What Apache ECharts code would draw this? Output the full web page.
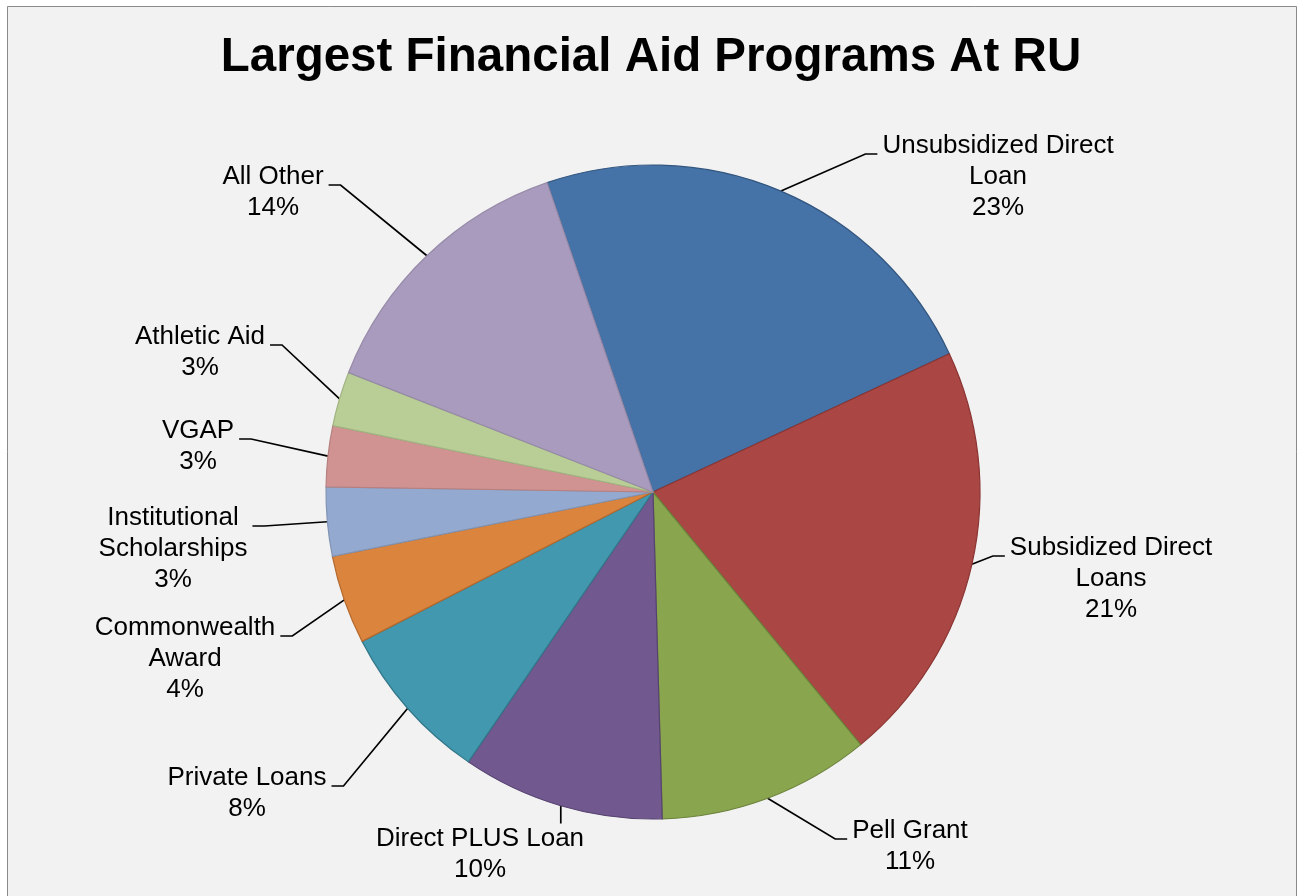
<!DOCTYPE html>
<html>
<head>
<meta charset="utf-8">
<script src="https://cdn.jsdelivr.net/npm/echarts@6/dist/echarts.min.js"></script>
<style>
html,body{margin:0;padding:0;background:#ffffff;}
#chart{width:1302px;height:896px;}
</style>
</head>
<body>
<div id="chart"></div>
<script>
// ---- data ----
var titleText = 'Largest Financial Aid Programs At RU';
var categories = [
  'Unsubsidized Direct\nLoan',
  'Subsidized Direct\nLoans',
  'Pell Grant',
  'Direct PLUS Loan',
  'Private Loans',
  'Commonwealth\nAward',
  'Institutional\nScholarships',
  'VGAP',
  'Athletic Aid',
  'All Other'
];
var shares = [23.3, 21.0, 10.5, 10.0, 7.9, 4.4, 3.4, 3.0, 2.7, 13.8];

// ---- styles / layout ----
var fillColors = ['#4572A7', '#AA4643', '#89A54E', '#71588F', '#4198AF', '#DB843D', '#93A9CF', '#D19392', '#B9CD96', '#A99BBD'];
var edgeColors = ['#33567F', '#8A3533', '#6C833C', '#574370', '#317789', '#B4692D', '#8194B4', '#B78080', '#A0B381', '#978AA8'];
// label anchor: [text centre x, first-line centre y, side of pie]
var labelPlaces = [
  [998, 146, 'r'],
  [1111, 548, 'r'],
  [910, 831, 'r'],
  [480, 839, 'b'],
  [247, 778, 'l'],
  [185, 628, 'l'],
  [173, 518, 'l'],
  [198, 431, 'l'],
  [200, 337, 'l'],
  [273, 177, 'l']
];
var LINE_H = 31;

var chart = echarts.init(document.getElementById('chart'), null, {renderer: 'canvas'});

var pieData = categories.map(function (c, i) {
  return {
    name: c,
    value: shares[i],
    itemStyle: {color: fillColors[i], borderColor: edgeColors[i], borderWidth: 1.2}
  };
});

chart.setOption({
  backgroundColor: '#ffffff',
  animation: false,
  graphic: [{
    type: 'rect',
    z: -10,
    silent: true,
    shape: {x: 7.5, y: 6.5, width: 1289, height: 900},
    style: {fill: '#F2F2F2', stroke: '#8A8A8A', lineWidth: 1}
  }],
  title: {
    text: titleText,
    left: 'center',
    top: 29,
    textStyle: {
      fontFamily: '"Liberation Sans", Arial, sans-serif',
      fontSize: 47.5,
      fontWeight: 'bold',
      color: '#000000'
    }
  },
  series: [{
    type: 'pie',
    center: [653, 492],
    radius: 327,
    startAngle: 108.9,
    clockwise: true,
    avoidLabelOverlap: false,
    data: pieData,
    label: {
      show: true,
      position: 'outside',
      color: '#000000',
      fontFamily: '"Liberation Sans", Arial, sans-serif',
      fontSize: 26,
      lineHeight: LINE_H,
      align: 'center',
      formatter: function (p) {
        return p.name + '\n' + Math.round(p.percent) + '%';
      }
    },
    labelLine: {
      show: true,
      length: 20,
      length2: 12,
      lineStyle: {color: '#000000', width: 1.7}
    },
    labelLayout: function (params) {
      var pl = labelPlaces[params.dataIndex];
      var w = params.labelRect.width;
      var top = pl[1] - LINE_H / 2;
      var p0 = params.labelLinePoints ? params.labelLinePoints[0] : null;
      var ay = pl[1] + 8;
      var pts;
      if (pl[2] === 'r') {
        var ax = pl[0] - w / 2 - 5;
        pts = [p0, [ax - 12, ay], [ax, ay]];
      } else if (pl[2] === 'l') {
        var bx = pl[0] + w / 2 + 5;
        pts = [p0, [bx + 12, ay], [bx, ay]];
      } else {
        pts = p0 ? [p0, [p0[0], top], [p0[0], top]] : null;
      }
      var out = {x: pl[0], y: top, align: 'center', verticalAlign: 'top'};
      if (p0) out.labelLinePoints = pts;
      return out;
    }
  }]
});
</script>
</body>
</html>
